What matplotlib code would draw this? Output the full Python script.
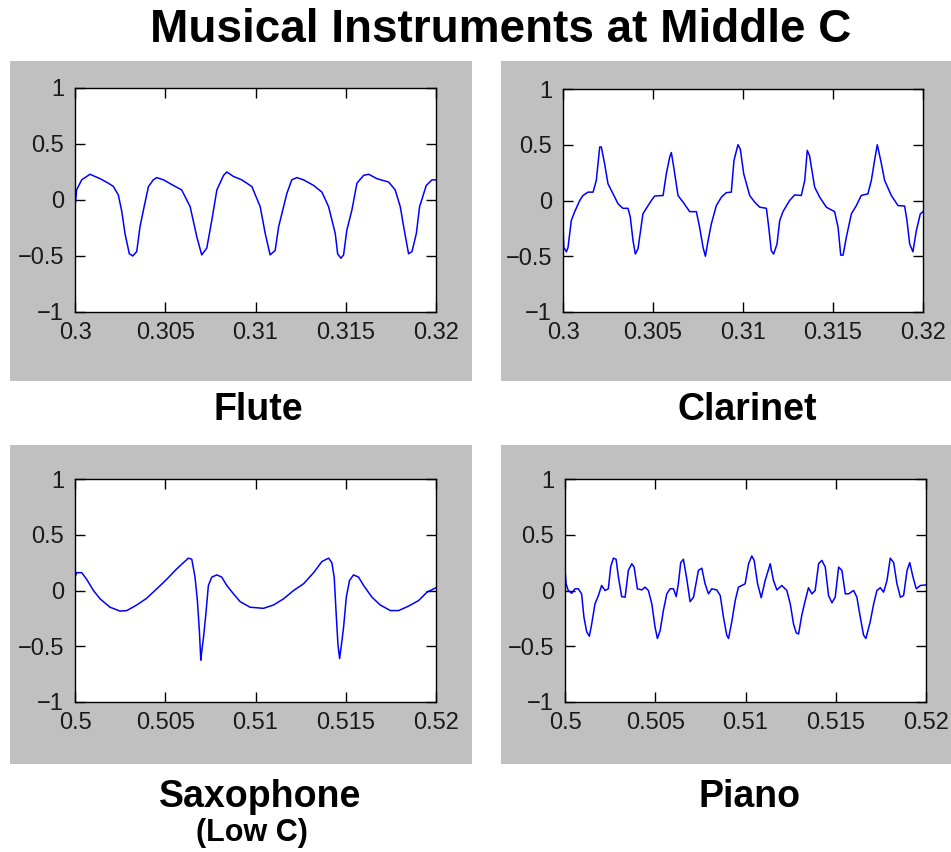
import matplotlib
matplotlib.use("Agg")
import matplotlib.pyplot as plt
import numpy as np

plt.rcParams['font.family'] = ['Liberation Sans', 'DejaVu Sans']

# ---------------- data (time offsets in ms from window start, amplitude) ----------------
title = "Musical Instruments at Middle C"
panel_names = ["Flute", "Clarinet", "Saxophone", "Piano"]
sax_subtitle = "(Low C)"
window_starts = [0.3, 0.3, 0.5, 0.5]
window_length_ms = 20
yticks = [-1, -0.5, 0, 0.5, 1]
xticks_top = [0.3, 0.305, 0.31, 0.315, 0.32]
xticklabels_top = ["0.3", "0.305", "0.31", "0.315", "0.32"]
xticks_bottom = [0.5, 0.505, 0.51, 0.515, 0.52]
xticklabels_bottom = ["0.5", "0.505", "0.51", "0.515", "0.52"]
yticklabels = ["\u22121", "\u22120.5", "0", "0.5", "1"]

flute_ms = [0, 0.09, 0.37, 0.83, 1.39, 1.85, 2.13, 2.40, 2.59, 2.77, 3.01, 3.20, 3.42,
            3.60, 3.83, 4.07, 4.34, 4.53, 4.90, 5.45, 5.91, 6.38, 6.75, 7.02, 7.30, 7.58,
            7.86, 8.23, 8.41, 8.78, 9.24, 9.80, 10.26, 10.54, 10.81, 11.09, 11.28, 11.74,
            12.01, 12.29, 12.66, 13.22, 13.68, 14.05, 14.42, 14.55, 14.73, 14.88, 15.06,
            15.34, 15.62, 15.99, 16.27, 16.73, 17.38, 17.74, 18.02, 18.21, 18.48, 18.67,
            18.91, 19.09, 19.46, 19.78, 20.00]
flute_amp = [-0.06, 0.09, 0.18, 0.23, 0.19, 0.15, 0.12, 0.045, -0.1, -0.3, -0.48, -0.5, -0.46,
             -0.24, -0.06, 0.12, 0.18, 0.2, 0.18, 0.13, 0.09, -0.06, -0.33, -0.49, -0.43, -0.18,
             0.09, 0.22, 0.25, 0.21, 0.18, 0.12, -0.06, -0.3, -0.49, -0.45, -0.24, 0.06,
             0.18, 0.2, 0.18, 0.13, 0.07, -0.06, -0.3, -0.48, -0.52, -0.49, -0.27,
             -0.09, 0.15, 0.22, 0.23, 0.19, 0.16, 0.09, -0.06, -0.24, -0.48, -0.46,
             -0.3, -0.06, 0.13, 0.18, 0.18]

clarinet_ms = [0, 0.04, 0.19, 0.28, 0.46, 0.65, 0.93, 1.11, 1.39, 1.67, 1.85, 2.04, 2.13, 2.31,
               2.50, 2.78, 3.06, 3.33, 3.61, 3.74, 3.89, 4.02, 4.17, 4.44, 4.63, 4.91, 5.09,
               5.56, 5.74, 5.93, 6.02, 6.15, 6.39, 6.67, 7.04, 7.41, 7.59, 7.78, 7.91, 8.06,
               8.24, 8.52, 8.80, 9.07, 9.35, 9.50, 9.72, 9.85, 10.04, 10.37, 10.65, 10.93,
               11.30, 11.43, 11.57, 11.70, 11.89, 12.04, 12.22, 12.59, 12.87, 13.24, 13.43,
               13.57, 13.70, 13.98, 14.26, 14.63, 15.09, 15.28, 15.43, 15.56, 15.74, 16.02,
               16.30, 16.57, 16.94, 17.13, 17.31, 17.46, 17.65, 17.87, 18.24, 18.61, 18.98,
               19.11, 19.26, 19.44, 19.63, 19.85, 20.00]
clarinet_amp = [-0.19, -0.42, -0.46, -0.42, -0.18, -0.1, 0, 0.045, 0.075, 0.075, 0.18, 0.48, 0.48,
                0.33, 0.15, 0.06, -0.03, -0.07, -0.07, -0.15, -0.36, -0.48, -0.43, -0.12, -0.07,
                0, 0.04, 0.045, 0.24, 0.39, 0.43, 0.3, 0.045, -0.015, -0.1, -0.1, -0.24, -0.42,
                -0.5, -0.36, -0.21, -0.045, 0.03, 0.07, 0.075, 0.36, 0.5, 0.46, 0.24, 0.045,
                -0.015, -0.06, -0.07, -0.24, -0.45, -0.48, -0.39, -0.18, -0.1, 0, 0.05, 0.045,
                0.18, 0.45, 0.4, 0.12, 0.03, -0.06, -0.1, -0.24, -0.49, -0.49, -0.33, -0.12,
                -0.045, 0.045, 0.06, 0.18, 0.36, 0.5, 0.36, 0.18, 0.045, -0.045, -0.05,
                -0.18, -0.39, -0.46, -0.27, -0.12, -0.1]

sax_ms = [0, 0.09, 0.37, 0.65, 1.02, 1.39, 1.94, 2.50, 2.87, 3.42, 3.97, 4.53, 5.08, 5.55,
          6.01, 6.28, 6.47, 6.65, 6.78, 6.89, 6.97, 7.02, 7.12, 7.25, 7.39, 7.58, 7.86, 8.13,
          8.41, 8.78, 9.15, 9.70, 10.44, 11.00, 11.55, 12.11, 12.66, 13.22, 13.68, 14.05,
          14.23, 14.36, 14.47, 14.57, 14.66, 14.75, 14.88, 15.03, 15.21, 15.43, 15.71, 15.99,
          16.45, 16.91, 17.47, 17.93, 18.48, 19.04, 19.50, 20.00]
sax_amp = [0.12, 0.16, 0.16, 0.1, 0, -0.075, -0.15, -0.185, -0.18, -0.13, -0.07, 0.015, 0.1, 0.18,
           0.25, 0.29, 0.28, 0.12, -0.09, -0.36, -0.625, -0.55, -0.42, -0.21, 0.045, 0.12, 0.14, 0.12,
           0.045, -0.03, -0.1, -0.15, -0.16, -0.13, -0.075, 0, 0.06, 0.16, 0.26, 0.29,
           0.25, 0.12, -0.21, -0.49, -0.61, -0.5, -0.33, -0.06, 0.09, 0.14, 0.12, 0.045,
           -0.06, -0.13, -0.18, -0.18, -0.14, -0.09, -0.015, 0.025]

piano_ms = [0, 0.06, 0.18, 0.37, 0.55, 0.74, 0.92, 1.05, 1.20, 1.35, 1.48, 1.66, 1.85, 2.03,
            2.22, 2.40, 2.53, 2.68, 2.83, 2.96, 3.14, 3.33, 3.51, 3.70, 3.83, 4.01, 4.25, 4.44,
            4.62, 4.81, 4.99, 5.12, 5.27, 5.45, 5.64, 5.82, 6.01, 6.16, 6.28, 6.41, 6.56, 6.75,
            6.93, 7.12, 7.39, 7.58, 7.76, 7.95, 8.13, 8.41, 8.60, 8.78, 8.96, 9.06, 9.24, 9.43,
            9.61, 9.80, 9.98, 10.17, 10.35, 10.48, 10.67, 10.87, 11.09, 11.37, 11.55, 11.74,
            12.01, 12.29, 12.48, 12.66, 12.81, 12.94, 13.12, 13.31, 13.49, 13.68, 13.86, 14.05,
            14.23, 14.42, 14.60, 14.79, 14.97, 15.16, 15.34, 15.53, 15.71, 15.99, 16.17, 16.36,
            16.54, 16.67, 16.91, 17.10, 17.28, 17.47, 17.65, 17.84, 18.02, 18.21, 18.39, 18.58,
            18.76, 18.95, 19.10, 19.28, 19.46, 19.69, 20.00]
piano_amp = [0.19, 0.06, 0, -0.025, 0.015, 0.015, -0.03, -0.24, -0.37, -0.41, -0.3, -0.12, -0.045, 0.045,
             0, 0.015, 0.21, 0.29, 0.28, 0.12, -0.055, -0.06, 0.18, 0.24, 0.21, 0.015, 0.005, 0.03,
             0, -0.12, -0.33, -0.43, -0.36, -0.18, -0.03, 0.015, 0.015, -0.055, 0.06, 0.25, 0.28, 0.1,
             -0.1, -0.06, 0.18, 0.2, 0.06, -0.03, 0.015, 0.005, -0.045, -0.24, -0.4, -0.43, -0.28, -0.09,
             0.03, 0.045, 0.06, 0.24, 0.31, 0.27, 0.06, -0.065, 0.09, 0.24, 0.09, 0.005,
             0.045, 0, -0.12, -0.3, -0.38, -0.39, -0.22, -0.09, 0.025, -0.03, 0, 0.24,
             0.27, 0.21, -0.045, -0.11, -0.06, 0.21, 0.18, -0.03, -0.03, 0, -0.06, -0.24,
             -0.4, -0.43, -0.28, -0.12, 0, 0.025, -0.015, 0.09, 0.29, 0.25, 0.06, -0.06,
             -0.045, 0.18, 0.25, 0.12, 0.015, 0.045, 0.05]

series_ms = [flute_ms, clarinet_ms, sax_ms, piano_ms]
series_amp = [flute_amp, clarinet_amp, sax_amp, piano_amp]

# ---------------- layout ----------------
W, H = 951, 852
fig = plt.figure(figsize=(W / 100, H / 100), dpi=100)

def fx(px):
    return px / W

def fy(py):
    return 1 - py / H

gray = "#c0c0c0"
# gray panel boxes (left, top, right, bottom in pixels)
boxes = [(10, 61, 472, 381), (501, 61, 951, 381), (10, 445, 472, 764), (501, 445, 951, 764)]
for (l, t, r, b) in boxes:
    bg = fig.add_axes([fx(l), fy(b), fx(r) - fx(l), fy(t) - fy(b)], zorder=-5)
    bg.set_facecolor(gray)
    bg.set_xticks([])
    bg.set_yticks([])
    for s in bg.spines.values():
        s.set_visible(False)

axes_px = [(75, 88, 436, 312), (563, 89, 923, 312), (75, 479, 436, 702), (565, 479, 926, 702)]
label_pos = [(258, 410), (747, 410), (260, 797), (750, 797)]

for i, (l, t, r, b) in enumerate(axes_px):
    ax = fig.add_axes([fx(l), fy(b), fx(r) - fx(l), fy(t) - fy(b)], zorder=1)
    ax.set_facecolor("white")
    t0 = window_starts[i]
    tt = [t0 + m / 1000.0 for m in series_ms[i]]
    ax.plot(tt, series_amp[i], color="#0000ff", linewidth=1.1)
    ax.set_xlim(t0, t0 + window_length_ms / 1000.0)
    ax.set_ylim(-1, 1)
    if i < 2:
        ax.set_xticks(xticks_top)
        ax.set_xticklabels(xticklabels_top)
    else:
        ax.set_xticks(xticks_bottom)
        ax.set_xticklabels(xticklabels_bottom)
    ax.set_yticks(yticks)
    ax.set_yticklabels(yticklabels)
    ax.tick_params(direction="in", length=7, width=1.0, top=True, right=True,
                   labelsize=17, colors="black", labelcolor="#1a1a1a")
    ax.tick_params(axis="x", pad=7)
    ax.tick_params(axis="y", pad=8)
    for s in ax.spines.values():
        s.set_linewidth(1.0)
        s.set_color("black")
    lx, ly = label_pos[i]
    fig.text(fx(lx), fy(ly), panel_names[i], ha="center", va="center",
             fontsize=27, fontweight="bold", color="black")

fig.text(fx(252), fy(833), sax_subtitle, ha="center", va="center",
         fontsize=22, fontweight="bold", color="black")
fig.text(fx(501), fy(30), title, ha="center", va="center",
         fontsize=33, fontweight="bold", color="black")

fig.savefig("out.png", dpi=100, facecolor="white")
